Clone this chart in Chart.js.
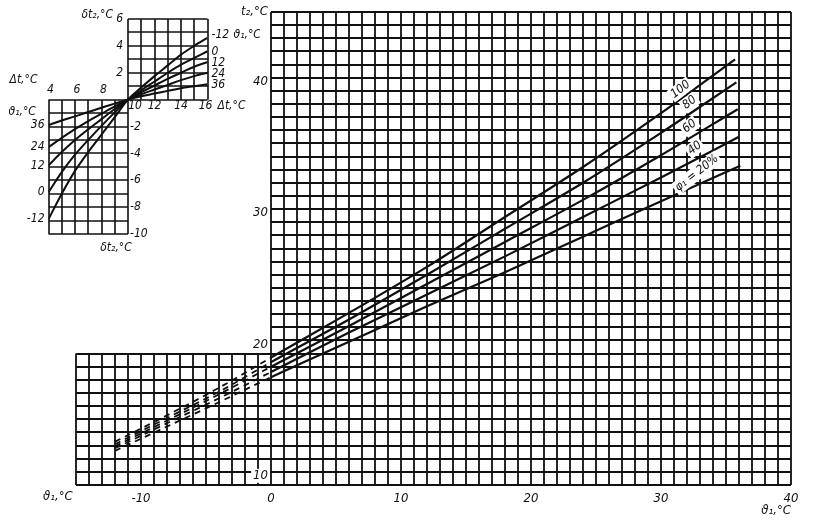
<!DOCTYPE html>
<html>
<head>
<meta charset="utf-8">
<script src="https://cdn.jsdelivr.net/npm/chart.js@4.4.1/dist/chart.umd.min.js"></script>
<style>
  body { margin: 0; background: #fff; }
  #wrap { position: relative; width: 813px; height: 520px; }
  #main-chart, #inset-chart { position: absolute; left: 0; top: 0; }
</style>
</head>
<body>
<div id="wrap">
  <canvas id="main-chart" width="813" height="520"></canvas>
  <canvas id="inset-chart" width="260" height="270"></canvas>
</div>
<script>
/* Main nomogram: t2 against theta1, one curve per humidity phi1 */
const theta1 = [-12, -8, -4, 0, 6, 12, 18, 24, 30]
const theta1End = [35.7, 35.8, 35.9, 36.0, 36.1]   // last point of each curve
const phiLabels = ['100', '80', '60', '40', 'φ₁ = 20%']
const t2Phi100 = [12.3, 14.3, 16.4, 18.7, 22.1, 25.6, 29.4, 33.2, 37.3, 41.4]
const t2Phi80  = [12.1, 14.1, 16.1, 18.35, 21.6, 25.0, 28.5, 32.0, 35.8, 39.65]
const t2Phi60  = [11.95, 13.9, 15.9, 18.0, 21.1, 24.3, 27.5, 30.7, 34.1, 37.6]
const t2Phi40  = [11.8, 13.7, 15.6, 17.6, 20.6, 23.5, 26.4, 29.4, 32.4, 35.5]
const t2Phi20  = [11.6, 13.45, 15.3, 17.2, 19.9, 22.6, 25.2, 27.9, 30.6, 33.3]
const theta1Ticks = [-10, 0, 10, 20, 30, 40]
const t2Ticks = [10, 20, 30, 40]

/* Inset: correction dt2 against delta t, one curve per theta1 */
const deltaT = [4, 5, 6, 7, 8, 9, 10, 11, 12, 13, 14, 15, 16]
const insetTheta1 = ['-12', '0', '12', '24', '36']
const dt2Theta1Minus12 = [-8.9, -7.0, -5.3, -3.9, -2.6, -1.3, 0, 0.9, 1.75, 2.55, 3.35, 4.0, 4.6]
const dt2Theta1Zero    = [-6.9, -5.4, -4.1, -3.0, -1.95, -0.95, 0, 0.7, 1.35, 2.0, 2.6, 3.1, 3.6]
const dt2Theta1Plus12  = [-4.9, -3.9, -3.0, -2.2, -1.45, -0.7, 0, 0.55, 1.05, 1.55, 2.0, 2.45, 2.8]
const dt2Theta1Plus24  = [-3.55, -2.85, -2.2, -1.6, -1.05, -0.5, 0, 0.4, 0.75, 1.1, 1.45, 1.75, 2.0]
const dt2Theta1Plus36  = [-1.9, -1.55, -1.25, -0.92, -0.6, -0.3, 0, 0.25, 0.45, 0.65, 0.85, 1.0, 1.15]
const insetUpperTicks = [2, 4, 6]
const insetLowerTicks = [-2, -4, -6, -8, -10]
const insetTopDeltaT = [4, 6, 8]
const insetBottomDeltaT = [10, 12, 14, 16]

const fontFamily = '"DejaVu Sans Condensed", "Liberation Sans Narrow", "DejaVu Sans", sans-serif'
const ink = '#101010'

function font(size) {
    return 'italic ' + size + 'px ' + fontFamily
}

// text with a white patch behind it so grid lines do not run through
function label(ctx, text, x, y, align, backdrop) {
    ctx.textAlign = align
    ctx.textBaseline = 'middle'
    if (backdrop) {
        let w = ctx.measureText(text).width
        let left = align === 'right' ? x - w : (align === 'center' ? x - w / 2 : x)
        ctx.fillStyle = '#fff'
        ctx.fillRect(left - 2, y - 7, w + 4, 14)
    }
    ctx.fillStyle = ink
    ctx.fillText(text, x, y)
}

/* ---------- main chart ---------- */

let mainSeries = [t2Phi100, t2Phi80, t2Phi60, t2Phi40, t2Phi20]

let mainDatasets = mainSeries.map(function(values, i) {
    let xs = theta1.concat([theta1End[i]])
    return {
        label: phiLabels[i],
        data: xs.map((x, k) => ({ x: x, y: values[k] })),
        showLine: true,
        borderColor: ink,
        borderWidth: 2.2,
        pointRadius: 0,
        cubicInterpolationMode: 'monotone',
        // the part left of 0 is dashed in the original
        segment: {
            borderDash: ctx => ctx.p1.parsed.x <= 0 ? [6, 5] : undefined,
            borderWidth: ctx => ctx.p1.parsed.x <= 0 ? 1.8 : undefined
        }
    }
})

// grid is drawn only over the two boxes of the nomogram
let mainGrid = {
    id: 'mainGrid',
    beforeDatasetsDraw(chart) {
        let ctx = chart.ctx
        let x = chart.scales.x
        let y = chart.scales.y
        ctx.save()
        ctx.strokeStyle = ink
        ctx.lineWidth = 1.8
        ctx.beginPath()
        for (let v = -15; v <= 40; v++) {
            let px = Math.round(x.getPixelForValue(v))
            ctx.moveTo(px, y.getPixelForValue(9))
            ctx.lineTo(px, y.getPixelForValue(v >= 0 ? 45 : 19))
        }
        for (let v = 9; v <= 45; v++) {
            let py = Math.round(y.getPixelForValue(v))
            ctx.moveTo(x.getPixelForValue(v <= 19 ? -15 : 0), py)
            ctx.lineTo(x.getPixelForValue(40), py)
        }
        ctx.stroke()
        ctx.restore()
    },
    afterDatasetsDraw(chart) {
        let ctx = chart.ctx
        let x = chart.scales.x
        let y = chart.scales.y
        let area = chart.chartArea
        ctx.save()
        ctx.font = font(13)

        // t2 tick labels sit just left of the theta1 = 0 line
        t2Ticks.forEach(function(v) {
            label(ctx, String(v), x.getPixelForValue(0) - 3, y.getPixelForValue(v) + 4, 'right', v < 19)
        })
        label(ctx, 't₂,°C', x.getPixelForValue(0) - 3, area.top, 'right', false)
        label(ctx, 'ϑ₁,°C', area.left - 33, area.bottom + 12, 'left', false)
        label(ctx, 'ϑ₁,°C', area.right, area.bottom + 26, 'right', false)

        // curve names, written along each curve near its end
        let labelX = [31.5, 32.2, 32.2, 32.6, 32.75]
        let labelY = [39.1, 38.1, 36.3, 34.65, 32.75]
        ctx.font = font(12)
        phiLabels.forEach(function(text, i) {
            ctx.save()
            ctx.translate(x.getPixelForValue(labelX[i]), y.getPixelForValue(labelY[i]))
            ctx.rotate(-38 * Math.PI / 180)
            label(ctx, text, 0, 0, 'center', true)
            ctx.restore()
        })
        ctx.restore()
    }
}

let mainChart = new Chart(document.querySelector('#main-chart'), {
    type: 'scatter',
    data: { datasets: mainDatasets },
    options: {
        responsive: false,
        animation: false,
        devicePixelRatio: 1,
        layout: { padding: { left: 76, right: 22, top: 12, bottom: 0 } },
        plugins: { legend: { display: false }, tooltip: { enabled: false } },
        scales: {
            x: {
                type: 'linear',
                min: -15,
                max: 40,
                afterBuildTicks: scale => { scale.ticks = theta1Ticks.map(v => ({ value: v })) },
                afterFit: scale => { scale.height = 35 },
                grid: { display: false, drawTicks: false },
                border: { display: false },
                ticks: {
                    padding: 6,
                    color: ink,
                    font: { family: fontFamily, style: 'italic', size: 13 }
                }
            },
            y: { type: 'linear', min: 9, max: 45, display: false }
        }
    },
    plugins: [mainGrid]
})

/* ---------- inset chart ---------- */

let insetSeries = [dt2Theta1Minus12, dt2Theta1Zero, dt2Theta1Plus12, dt2Theta1Plus24, dt2Theta1Plus36]

let insetDatasets = insetSeries.map(function(values, i) {
    return {
        label: insetTheta1[i],
        data: deltaT.map((d, k) => ({ x: d, y: values[k] })),
        showLine: true,
        borderColor: ink,
        borderWidth: 2,
        pointRadius: 0,
        cubicInterpolationMode: 'monotone'
    }
})

let insetGrid = {
    id: 'insetGrid',
    beforeDatasetsDraw(chart) {
        let ctx = chart.ctx
        let x = chart.scales.x
        let y = chart.scales.y
        ctx.save()
        ctx.strokeStyle = ink
        ctx.lineWidth = 1.6
        ctx.beginPath()
        // upper box: delta t 10..16, dt2 0..6
        for (let v = 10; v <= 16; v++) {
            let px = Math.round(x.getPixelForValue(v))
            ctx.moveTo(px, y.getPixelForValue(0))
            ctx.lineTo(px, y.getPixelForValue(6))
        }
        for (let v = 0; v <= 6; v++) {
            let py = Math.round(y.getPixelForValue(v))
            ctx.moveTo(x.getPixelForValue(10), py)
            ctx.lineTo(x.getPixelForValue(16), py)
        }
        // lower box: delta t 4..10, dt2 -10..0
        for (let v = 4; v <= 10; v++) {
            let px = Math.round(x.getPixelForValue(v))
            ctx.moveTo(px, y.getPixelForValue(-10))
            ctx.lineTo(px, y.getPixelForValue(0))
        }
        for (let v = -10; v <= 0; v++) {
            let py = Math.round(y.getPixelForValue(v))
            ctx.moveTo(x.getPixelForValue(4), py)
            ctx.lineTo(x.getPixelForValue(10), py)
        }
        ctx.stroke()
        ctx.restore()
    },
    afterDatasetsDraw(chart) {
        let ctx = chart.ctx
        let x = chart.scales.x
        let y = chart.scales.y
        ctx.save()
        ctx.font = font(12)

        insetUpperTicks.forEach(v => label(ctx, String(v), x.getPixelForValue(10) - 5, y.getPixelForValue(v), 'right'))
        insetLowerTicks.forEach(v => label(ctx, String(v), x.getPixelForValue(10) + 2, y.getPixelForValue(v), 'left'))
        insetTopDeltaT.forEach(v => label(ctx, String(v), x.getPixelForValue(v) + 2, y.getPixelForValue(0) - 10, 'center'))
        insetBottomDeltaT.forEach(function(v) {
            let shift = v === 10 ? 7 : (v === 16 ? -2 : 0)
            label(ctx, String(v), x.getPixelForValue(v) + shift, y.getPixelForValue(0) + 6, 'center')
        })

        label(ctx, 'δt₂,°C', x.getPixelForValue(10) - 15, y.getPixelForValue(6) - 4, 'right')
        label(ctx, 'δt₂,°C', x.getPixelForValue(10) - 12, y.getPixelForValue(-10) + 14, 'center')
        label(ctx, 'Δt,°C', x.getPixelForValue(16) + 10, y.getPixelForValue(0) + 6, 'left')
        label(ctx, 'Δt,°C', x.getPixelForValue(4) - 39, y.getPixelForValue(0) - 20, 'left')
        label(ctx, 'ϑ₁,°C', x.getPixelForValue(4) - 40, y.getPixelForValue(-0.9), 'left')

        // curve names at both ends of each curve
        let last = deltaT.length - 1
        insetSeries.forEach(function(values, i) {
            label(ctx, insetTheta1[i], x.getPixelForValue(4) - 4, y.getPixelForValue(values[0]), 'right')
            let lift = i === 0 ? -3 : 1
            label(ctx, insetTheta1[i], x.getPixelForValue(16) + 4, y.getPixelForValue(values[last]) + lift, 'left')
        })
        label(ctx, 'ϑ₁,°C', x.getPixelForValue(16) + 26, y.getPixelForValue(dt2Theta1Minus12[last]) - 3, 'left')
        ctx.restore()
    }
}

let insetChart = new Chart(document.querySelector('#inset-chart'), {
    type: 'scatter',
    data: { datasets: insetDatasets },
    options: {
        responsive: false,
        animation: false,
        devicePixelRatio: 1,
        layout: { padding: { left: 48.5, right: 52.5, top: 19, bottom: 36 } },
        plugins: { legend: { display: false }, tooltip: { enabled: false } },
        scales: {
            x: { type: 'linear', min: 4, max: 16, display: false },
            y: { type: 'linear', min: -10, max: 6, display: false }
        }
    },
    plugins: [insetGrid]
})
</script>
</body>
</html>
